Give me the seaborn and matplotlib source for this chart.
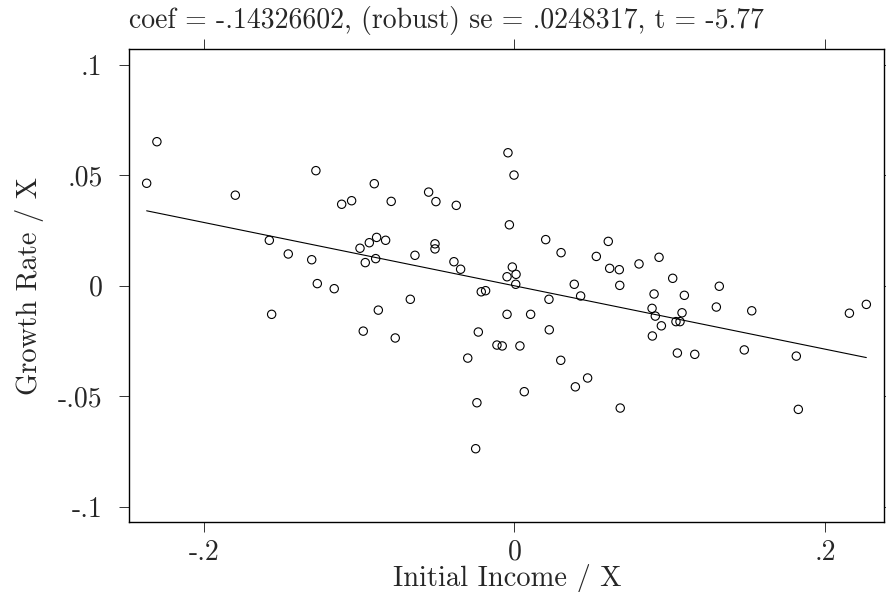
import numpy as np
import pandas as pd
import matplotlib
matplotlib.use("Agg")
import matplotlib.pyplot as plt
import seaborn as sns

# added-variable plot: residualised initial income vs residualised growth
income = [
    -0.2369, -0.2303, -0.1798, -0.1279, -0.1113, -0.1049, -0.1579, -0.1457,
    -0.1306, -0.1270, -0.1161, -0.1564, -0.0974, -0.0995, -0.0935, -0.0888,
    -0.0830, -0.0961, -0.0894, -0.0903, -0.0794, -0.0553, -0.0506, -0.0375,
    -0.0641, -0.0512, -0.0512, -0.0390, -0.0347, -0.0877, -0.0671, -0.0768,
    -0.0301, -0.0233, -0.0242, -0.0250, -0.0214, -0.0186, -0.0113, -0.0079,
    -0.0042, -0.0003, -0.0033, -0.0014, -0.0048, 0.0010, 0.0008, -0.0048,
    0.0035, 0.0063, 0.0104, 0.0201, 0.0222, 0.0224, 0.0298, 0.0300,
    0.0385, 0.0426, 0.0392, 0.0471, 0.0527, 0.0604, 0.0613, 0.0675,
    0.0678, 0.0681, 0.0802, 0.0931, 0.1019, 0.0899, 0.1094, 0.1319,
    0.1300, 0.0886, 0.0907, 0.1079, 0.1040, 0.1066, 0.0946, 0.0888,
    0.1049, 0.1161, 0.1480, 0.1528, 0.1815, 0.1828, 0.2157, 0.2266,
]
growth = [
    0.0464, 0.0652, 0.0410, 0.0521, 0.0369, 0.0385, 0.0206, 0.0144,
    0.0118, 0.0010, -0.0013, -0.0129, -0.0205, 0.0170, 0.0195, 0.0219,
    0.0206, 0.0105, 0.0123, 0.0462, 0.0382, 0.0424, 0.0381, 0.0364,
    0.0138, 0.0190, 0.0167, 0.0109, 0.0075, -0.0110, -0.0061, -0.0236,
    -0.0327, -0.0209, -0.0529, -0.0737, -0.0027, -0.0022, -0.0268, -0.0272,
    0.0602, 0.0501, 0.0276, 0.0085, 0.0041, 0.0052, 0.0007, -0.0129,
    -0.0272, -0.0479, -0.0129, 0.0209, -0.0061, -0.0199, -0.0337, 0.0150,
    0.0007, -0.0046, -0.0457, -0.0417, 0.0133, 0.0201, 0.0079, 0.0073,
    0.0002, -0.0553, 0.0099, 0.0129, 0.0034, -0.0037, -0.0043, -0.0002,
    -0.0096, -0.0102, -0.0137, -0.0122, -0.0162, -0.0162, -0.0181, -0.0227,
    -0.0304, -0.0310, -0.0290, -0.0113, -0.0318, -0.0559, -0.0124, -0.0084,
]
coef = -0.14326602
title = "coef = -.14326602, (robust) se = .0248317, t = -5.77"

xticks = [-0.2, 0, 0.2]
xtick_labels = ["-.2", "0", ".2"]
yticks = [-0.1, -0.05, 0, 0.05, 0.1]
ytick_labels = ["-.1", "-.05", "0", ".05", ".1"]

df = pd.DataFrame({"income": income, "growth": growth})
xs = np.array([df["income"].min(), df["income"].max()])
fit = pd.DataFrame({"income": xs, "growth": coef * xs})

sns.set_theme(style="white")
plt.rcParams["font.family"] = ["cmr10", "DejaVu Serif"]
plt.rcParams["axes.unicode_minus"] = False
plt.rcParams["axes.titley"] = 1.0

fig = plt.figure(figsize=(8.86, 5.92), dpi=100)
ax = fig.add_axes([0.1459, 0.1177, 0.8524, 0.7990])

sns.scatterplot(data=df, x="income", y="growth", ax=ax, marker="o", s=36,
                facecolor="none", edgecolor="black", linewidth=0.8)
sns.lineplot(data=fit, x="income", y="growth", ax=ax, color="black",
             linewidth=0.8)

ax.set_xlim(-0.2481, 0.2383)
ax.set_ylim(-0.107, 0.107)
ax.set_xticks(xticks)
ax.set_xticklabels(xtick_labels)
ax.set_yticks(yticks)
ax.set_yticklabels(ytick_labels)
ax.tick_params(axis="both", which="both", direction="out", length=7.2,
               width=0.7, color="#333333", labelsize=20,
               top=True, right=True, bottom=True, left=True)
ax.tick_params(axis="x", pad=5)
ax.tick_params(axis="y", pad=12)
for side in ax.spines.values():
    side.set_color("black")
    side.set_linewidth(1.0)

ax.set_xlabel("Initial Income / X", fontsize=20.5, labelpad=-1)
ax.set_ylabel("Growth Rate / X", fontsize=20.5, labelpad=10)
ax.set_title(title, loc="left", fontsize=20, pad=15)

fig.savefig("out.png", dpi=100)
